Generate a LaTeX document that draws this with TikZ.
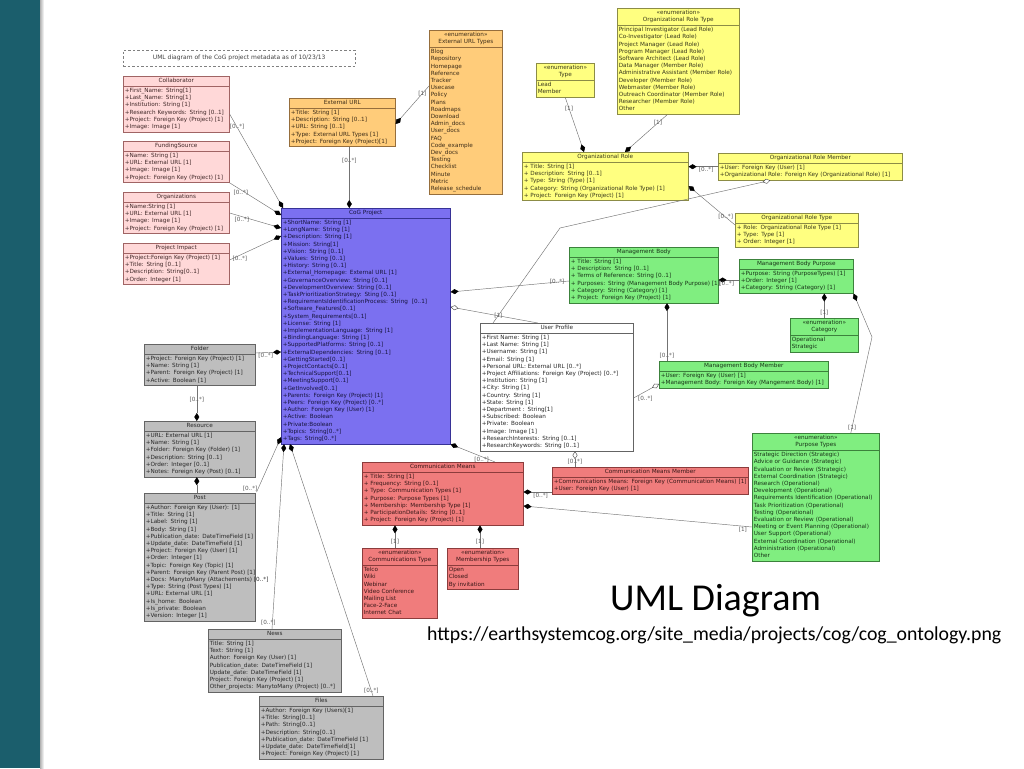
\documentclass[tikz,border=0pt]{standalone}
\usepackage{fontspec}
\newfontfamily\umlfamily{DejaVu Sans}
\newfontfamily\slidefamily{Carlito}
\newcommand{\umlfont}{\umlfamily\fontsize{5.7}{7.2}\selectfont}
\newcommand{\hd}[1]{\makebox[\hsize]{\strut#1}\par}
\newcommand{\rw}[1]{\mbox{\strut#1}\par}
\usetikzlibrary{shapes.multipart, arrows.meta}
\definecolor{sidebar}{RGB}{27,94,108}
\definecolor{pinkfill}{RGB}{255,216,216}
\definecolor{pinkline}{RGB}{160,100,100}
\definecolor{orangefill}{RGB}{255,204,122}
\definecolor{orangeline}{RGB}{150,110,60}
\definecolor{yellowfill}{RGB}{255,255,128}
\definecolor{yellowline}{RGB}{140,140,70}
\definecolor{bluefill}{RGB}{123,112,240}
\definecolor{blueline}{RGB}{55,50,150}
\definecolor{greenfill}{RGB}{128,238,128}
\definecolor{greenline}{RGB}{60,130,60}
\definecolor{redfill}{RGB}{240,124,124}
\definecolor{redline}{RGB}{140,60,60}
\definecolor{grayfill}{RGB}{190,190,190}
\definecolor{grayline}{RGB}{100,100,100}
\tikzset{
  umlclass/.style 2 args={draw=#2, fill=#1, text=#2!40!black, line width=0.6pt,
    rectangle split, rectangle split parts=2, anchor=north west,
    inner xsep=1.5pt, inner ysep=1pt, align=left, font=\umlfont},
  pinkbox/.style={umlclass={pinkfill}{pinkline}},
  orangebox/.style={umlclass={orangefill}{orangeline}},
  yellowbox/.style={umlclass={yellowfill}{yellowline}},
  bluebox/.style={umlclass={bluefill}{blueline}},
  greenbox/.style={umlclass={greenfill}{greenline}},
  redbox/.style={umlclass={redfill}{redline}},
  graybox/.style={umlclass={grayfill}{grayline}},
  whitebox/.style={umlclass={white}{grayline}},
  titlebox/.style={draw=black!50, dash pattern=on 2.5pt off 2pt, anchor=north west,
    minimum width=232pt, minimum height=16pt, inner sep=0pt,
    font=\umlfamily\fontsize{6}{7}\selectfont, text=black!75},
  conn/.style={draw=black!55, line width=0.45pt},
  comp/.style={conn, -{Diamond[length=8pt,width=5pt,color=black]}},
  aggr/.style={conn, -{Diamond[open,length=8pt,width=5pt,color=black!70,fill=white]}},
  mult/.style={font=\umlfont, text=black!65, inner sep=0.5pt}
}

\begin{document}
\begin{tikzpicture}[x=1pt, y=-1pt]
  \useasboundingbox (0,0) rectangle (1024,768);
  \fill[sidebar] (0,0) rectangle (40,768);
  \shade[left color=black!30, right color=white] (40,0) rectangle (44,768);

  \node[titlebox] (title) at (123,50) {UML diagram of the CoG project metadata as of 10/23/13};

  % left column
  \node[pinkbox, text width=103pt] (collab) at (123,76) {\hd{Collaborator}
    \nodepart{two}
    \rw{+First\_Name: String[1]}
    \rw{+Last\_Name: String[1]}
    \rw{+Institution: String [1]}
    \rw{+Research Keywords: String [0..1]}
    \rw{+Project: Foreign Key (Project) [1]}
    \rw{+Image: Image [1]}};
  \node[pinkbox, text width=103pt] (fund) at (123,141) {\hd{FundingSource}
    \nodepart{two}
    \rw{+Name: String [1]}
    \rw{+URL: External URL [1]}
    \rw{+Image: Image [1]}
    \rw{+Project: Foreign Key (Project) [1]}
    \vspace{5pt}};
  \node[pinkbox, text width=103pt] (orgs) at (123,192) {\hd{Organizations}
    \nodepart{two}
    \rw{+Name:String [1]}
    \rw{+URL: External URL [1]}
    \rw{+Image: Image [1]}
    \rw{+Project: Foreign Key (Project) [1]}};
  \node[pinkbox, text width=103pt] (pimpact) at (123,243) {\hd{Project Impact}
    \nodepart{two}
    \rw{+Project:Foreign Key (Project) [1]}
    \rw{+Title: String [0..1]}
    \rw{+Description: String[0..1]}
    \rw{+Order: Integer [1]}};

  % external url
  \node[orangebox, text width=103pt] (exturl) at (289,98) {\hd{External URL}
    \nodepart{two}
    \rw{+Title: String [1]}
    \rw{+Description: String [0..1]}
    \rw{+URL: String [0..1]}
    \rw{+Type: External URL Types [1]}
    \rw{+Project: Foreign Key (Project)[1]}};
  \node[orangebox, text width=70pt] (urltypes) at (429,30) {\hd{«enumeration»}\hd{External URL Types}
    \nodepart{two}
    \rw{Blog}\rw{Repository}\rw{Homepage}\rw{Reference}\rw{Tracker}
    \rw{Usecase}\rw{Policy}\rw{Plans}\rw{Roadmaps}\rw{Download}
    \rw{Admin\_docs}\rw{User\_docs}\rw{FAQ}\rw{Code\_example}\rw{Dev\_docs}
    \rw{Testing}\rw{Checklist}\rw{Minute}\rw{Metric}\rw{Release\_schedule}};

  % organizational roles
  \node[yellowbox, text width=55pt] (typeenum) at (536,63) {\hd{«enumeration»}\hd{Type}
    \nodepart{two}
    \rw{Lead}\rw{Member}};
  \node[yellowbox, text width=119pt] (roleenum) at (617,8) {\hd{«enumeration»}\hd{Organizational Role Type}
    \nodepart{two}
    \rw{Principal Investigator (Lead Role)}
    \rw{Co-Investigator (Lead Role)}
    \rw{Project Manager (Lead Role)}
    \rw{Program Manager (Lead Role)}
    \rw{Software Architect (Lead Role)}
    \rw{Data Manager (Member Role)}
    \rw{Administrative Assistant (Member Role)}
    \rw{Developer (Member Role)}
    \rw{Webmaster (Member Role)}
    \rw{Outreach Coordinator (Member Role)}
    \rw{Researcher (Member Role)}
    \rw{Other}};
  \node[yellowbox, text width=163pt] (orgrole) at (522,152) {\hd{Organizational Role}
    \nodepart{two}
    \rw{+ Title: String [1]}
    \rw{+ Description: String [0..1]}
    \rw{+ Type: String (Type) [1]}
    \rw{+ Category: String (Organizational Role Type) [1]}
    \rw{+ Project: Foreign Key (Project) [1]}};
  \node[yellowbox, text width=181pt] (rolemember) at (718,153) {\hd{Organizational Role Member}
    \nodepart{two}
    \rw{+User: Foreign Key (User) [1]}
    \rw{+Organizational Role: Foreign Key (Organizational Role) [1]}
    \vspace{8pt}};
  \node[yellowbox, text width=120pt] (roletype) at (735,213) {\hd{Organizational Role Type}
    \nodepart{two}
    \rw{+ Role: Organizational Role Type [1]}
    \rw{+ Type: Type [1]}
    \rw{+ Order: Integer [1]}};

  % project
  \node[bluebox, text width=166pt] (coc) at (281,208) {\hd{CoG Project}
    \nodepart{two}
    \rw{+ShortName: String [1]}
    \rw{+LongName: String [1]}
    \rw{+Description: String [1]}
    \rw{+Mission: String[1]}
    \rw{+Vision: String [0..1]}
    \rw{+Values: String [0..1]}
    \rw{+History: String [0..1]}
    \rw{+External\_Homepage: External URL [1]}
    \rw{+GovernanceOverview: String [0..1]}
    \rw{+DevelopmentOverview: String [0..1]}
    \rw{+TaskPrioritizationStrategy: Sting [0..1]}
    \rw{+RequirementsIdentificationProcess: String\ \ [0..1]}
    \rw{+Software\_Features[0..1]}
    \rw{+System\_Requirements[0..1]}
    \rw{+License: String [1]}
    \rw{+ImplementationLanguage: String [1]}
    \rw{+BindingLanguage: String [1]}
    \rw{+SupportedPlatforms: String [0..1]}
    \rw{+ExternalDependencies: String [0..1]}
    \rw{+GettingStarted[0..1]}
    \rw{+ProjectContacts[0..1]}
    \rw{+TechnicalSupport[0..1]}
    \rw{+MeetingSupport[0..1]}
    \rw{+GetInvolved[0..1]}
    \rw{+Parents: Foreign Key (Project) [1]}
    \rw{+Peers: Foreign Key (Project) [0..*]}
    \rw{+Author: Foreign Key (User) [1]}
    \rw{+Active: Boolean}
    \rw{+Private:Boolean}
    \rw{+Topics: String[0..*]}
    \rw{+Tags: String[0..*]}};

  % management bodies
  \node[greenbox, text width=146pt] (mgmt) at (569,247) {\hd{Management Body}
    \nodepart{two}
    \rw{+ Title: String [1]}
    \rw{+ Description: String [0..1]}
    \rw{+ Terms of Reference: String [0..1]}
    \rw{+ Purposes: String (Management Body Purpose) [1]}
    \rw{+ Category: String (Category) [1]}
    \rw{+ Project: Foreign Key (Project) [1]}};
  \node[greenbox, text width=111pt] (purpose) at (739,259) {\hd{Management Body Purpose}
    \nodepart{two}
    \rw{+Purpose: String (PurposeTypes) [1]}
    \rw{+Order: Integer [1]}
    \rw{+Category: String (Category) [1]}};
  \node[greenbox, text width=65pt] (category) at (790,318) {\hd{«enumeration»}\hd{Category}
    \nodepart{two}
    \rw{Operational}\rw{Strategic}};
  \node[greenbox, text width=166pt] (mbmember) at (659,361) {\hd{Management Body Member}
    \nodepart{two}
    \rw{+User: Foreign Key (User) [1]}
    \rw{+Management Body: Foreign Key (Mangement Body) [1]}};
  \node[greenbox, text width=124pt] (purposetypes) at (752,433) {\hd{«enumeration»}\hd{Purpose Types}
    \nodepart{two}
    \rw{Strategic Direction (Strategic)}
    \rw{Advice or Guidance (Strategic)}
    \rw{Evaluation or Review (Strategic)}
    \rw{External Coordination (Strategic)}
    \rw{Research (Operational)}
    \rw{Development (Operational)}
    \rw{Requirements Identification (Operational)}
    \rw{Task Prioritization (Operational)}
    \rw{Testing (Operational)}
    \rw{Evaluation or Review (Operational)}
    \rw{Meeting or Event Planning (Operational)}
    \rw{User Support (Operational)}
    \rw{External Coordination (Operational)}
    \rw{Administration (Operational)}
    \rw{Other}};

  % users
  \node[whitebox, text width=150pt] (user) at (480,323) {\hd{User Profile}
    \nodepart{two}
    \rw{+First Name: String [1]}
    \rw{+Last Name: String [1]}
    \rw{+Username: String [1]}
    \rw{+Email: String [1]}
    \rw{+Personal URL: External URL [0..*]}
    \rw{+Project Affiliations: Foreign Key (Project) [0..*]}
    \rw{+Institution: String [1]}
    \rw{+City: String [1]}
    \rw{+Country: String [1]}
    \rw{+State: String [1]}
    \rw{+Department : String[1]}
    \rw{+Subscribed: Boolean}
    \rw{+Private: Boolean}
    \rw{+Image: Image [1]}
    \rw{+ResearchInterests: String [0..1]}
    \rw{+ResearchKeywords: String [0..1]}};

  % folders and posts
  \node[graybox, text width=108pt] (folder) at (144,344) {\hd{Folder}
    \nodepart{two}
    \rw{+Project: Foreign Key (Project) [1]}
    \rw{+Name: String [1]}
    \rw{+Parent: Foreign Key (Project) [1]}
    \rw{+Active: Boolean [1]}};
  \node[graybox, text width=108pt] (resource) at (144,421) {\hd{Resource}
    \nodepart{two}
    \rw{+URL: External URL [1]}
    \rw{+Name: String [1]}
    \rw{+Folder: Foreign Key (Folder) [1]}
    \rw{+Description: String [0..1]}
    \rw{+Order: Integer [0..1]}
    \rw{+Notes: Foreign Key (Post) [0..1]}};
  \node[graybox, text width=108pt] (post) at (144,493) {\hd{Post}
    \nodepart{two}
    \rw{+Author: Foreign Key (User): [1]}
    \rw{+Title: String [1]}
    \rw{+Label: String [1]}
    \rw{+Body: String [1]}
    \rw{+Publication\_date: DateTimeField [1]}
    \rw{+Update\_date: DateTimeField [1]}
    \rw{+Project: Foreign Key (User) [1]}
    \rw{+Order: Integer [1]}
    \rw{+Topic: Foreign Key (Topic) [1]}
    \rw{+Parent: Foreign Key (Parent Post) [1]}
    \rw{+Docs: ManytoMany (Attachements) [0..*]}
    \rw{+Type: String (Post Types) [1]}
    \rw{+URL: External URL [1]}
    \rw{+Is\_home: Boolean}
    \rw{+Is\_private: Boolean}
    \rw{+Version: Integer [1]}};
  \node[graybox, text width=130pt] (news) at (208,629) {\hd{News}
    \nodepart{two}
    \rw{Title: String [1]}
    \rw{Text: String [1]}
    \rw{Author: Foreign Key (User) [1]}
    \rw{Publication\_date: DateTimeField [1]}
    \rw{Update\_date: DateTimeField [1]}
    \rw{Project: Foreign Key (Project) [1]}
    \rw{Other\_projects: ManytoMany (Project) [0..*]}};
  \node[graybox, text width=121pt] (files) at (259,696) {\hd{Files}
    \nodepart{two}
    \rw{+Author: Foreign Key (Users)[1]}
    \rw{+Title: String[0..1]}
    \rw{+Path: String[0..1]}
    \rw{+Description: String[0..1]}
    \rw{+Publication\_date: DateTimeField [1]}
    \rw{+Update\_date: DateTimeField[1]}
    \rw{+Project: Foreign Key (Project) [1]}
    \vspace{4pt}};

  % communication
  \node[redbox, text width=158pt] (comm) at (362,462) {\hd{Communication Means}
    \nodepart{two}
    \rw{+ Title: String [1]}
    \rw{+ Frequency: String [0..1]}
    \rw{+ Type: Communication Types [1]}
    \rw{+ Purpose: Purpose Types [1]}
    \rw{+ Membership: Membership Type [1]}
    \rw{+ ParticipationDetails: String [0..1]}
    \rw{+ Project: Foreign Key (Project) [1]}};
  \node[redbox, text width=193pt] (commmember) at (552,467) {\hd{Communication Means Member}
    \nodepart{two}
    \rw{+Communications Means: Foreign Key (Communication Means) [1]}
    \rw{+User: Foreign Key (User) [1]}
    \vspace{7pt}};
  \node[redbox, text width=72pt] (commtype) at (362,548) {\hd{«enumeration»}\hd{Communications Type}
    \nodepart{two}
    \rw{Telco}\rw{Wiki}\rw{Webinar}\rw{Video Conference}
    \rw{Mailing List}\rw{Face-2-Face}\rw{Internet Chat}};
  \node[redbox, text width=68pt] (membership) at (447,548) {\hd{«enumeration»}\hd{Membership Types}
    \nodepart{two}
    \rw{Open}\rw{Closed}\rw{By invitation}};

  % bends
  \coordinate (bendA) at (560,228);
  \coordinate (bendB) at (872,337);

  % connectors
  \draw[comp] ([yshift=-38pt]collab.north east) -- node[mult, pos=0.14] (m1) {[0..*]} ([xshift=2pt]coc.north west);
  \draw[comp] (fund.south east) -- node[mult, pos=0.22, anchor=north] (m2) {[0..*]} ([yshift=-7pt]coc.north west);
  \draw[comp] ([yshift=-21pt]orgs.north east) -- node[mult, pos=0.24, anchor=north] (m3) {[0..*]} ([yshift=-20pt]coc.north west);
  \draw[comp] ([yshift=-17pt]pimpact.north east) -- node[mult, pos=0.2, anchor=north] (m4) {[0..*]} ([yshift=-28pt]coc.north west);
  \draw[comp] ([xshift=7pt]exturl.south) -- node[mult, pos=0.22] (m5) {[0..*]} ([xshift=7pt]exturl.south |- coc.north);
  \draw[comp] ([yshift=-56pt]urltypes.north west) -- node[mult, pos=0.2] (m6) {[1]} ([yshift=-26pt]exturl.north east);
  \draw[comp] (typeenum.south) -- node[mult, pos=0.2] (m7) {[1]} ([xshift=62pt]orgrole.north west);
  \draw[comp] ([xshift=-11pt]roleenum.south) -- node[mult, pos=0.22] (m8) {[1]} ([xshift=103pt]orgrole.north west);
  \draw[comp] (rolemember.west) -- node[mult, pos=0.4, anchor=north] (m9) {[0..*]} (rolemember.west -| orgrole.east);
  \draw[comp] ([yshift=-12pt]roletype.north west) -- node[mult, pos=0.2] (m10) {[0..*]} ([yshift=-34pt]orgrole.north east);
  \draw[aggr] ([xshift=13pt]user.north west) -- node[mult, pos=0.08] (m11) {[1]} (bendA) -- ([xshift=-40pt]rolemember.south);
  \draw[aggr] ([xshift=-19pt]user.north) -- ([yshift=-99pt]coc.north east);
  \draw[comp] ([yshift=-34pt]mgmt.north west) -- node[mult, pos=0.1] (m13) {[0..*]} ([yshift=-84pt]coc.north east);
  \draw[comp] ([yshift=-21pt]purpose.north west) -- node[mult, pos=0.6, anchor=north] (m14) {[0..*]} ([yshift=-21pt]purpose.north west -| mgmt.east);
  \draw[comp] (category.north) -- node[mult, pos=0.2] (m15) {[1]} (category.north |- purpose.south);
  \draw[comp] ([xshift=35pt]purposetypes.north) -- node[mult, pos=0.06] (m16) {[1]} (bendB) -- (purpose.south east);
  \draw[comp] ([xshift=8pt]mbmember.north west) -- node[mult, pos=0.1] (m17) {[0..*]} ([xshift=8pt]mbmember.north west |- mgmt.south);
  \draw[aggr] ([yshift=-75pt]user.north east) -- node[mult, pos=0.15, anchor=north west] (m18) {[0..*]} ([yshift=-23pt]mbmember.north west);
  \draw[comp] ([xshift=133pt]comm.north west) -- node[mult, pos=0.3, anchor=north] (m19) {[0..*]} (coc.south east);
  \draw[aggr] ([xshift=23pt]commmember.north west) -- node[mult, pos=0.33] (m20) {[0..*]} ([xshift=23pt]commmember.north west |- user.south);
  \draw[comp] ([yshift=-25pt]commmember.north west) -- node[mult, pos=0.4, anchor=north] (m21) {[0..*]} ([yshift=-25pt]commmember.north west -| comm.east);
  \draw[comp] ([yshift=-94pt]purposetypes.north west) -- node[mult, pos=0.04, anchor=north] (m22) {[1]} ([yshift=-44pt]comm.north east);
  \draw[comp] ([xshift=33pt]comm.south west |- commtype.north) -- node[mult, pos=0.27] (m23) {[1]} ([xshift=33pt]comm.south west);
  \draw[comp] ([xshift=118pt]comm.south west |- membership.north) -- node[mult, pos=0.27] (m24) {[1]} ([xshift=118pt]comm.south west);
  \draw[comp] ([yshift=-9pt]folder.north east) -- node[mult, pos=0.4, anchor=north] (m25) {[0..*]} ([yshift=-144pt]coc.north west);
  \draw[comp] ([xshift=-3pt]folder.south) -- node[mult, pos=0.4] (m26) {[0..*]} ([xshift=-3pt]folder.south |- resource.north);
  \draw[comp] ([xshift=-3pt]resource.south |- post.north) -- ([xshift=-3pt]resource.south);
  \draw[comp] ([xshift=1pt,yshift=1pt]post.north east) -- node[mult, pos=0.06, anchor=east] (m28) {[0..*]} ([yshift=7pt]coc.south west);
  \draw[comp] ([xshift=64pt]news.north west) -- node[mult, pos=0.035, xshift=-4pt] (m29) {[0..*]} ([xshift=3pt]coc.south west);
  \draw[comp] ([xshift=114pt]files.north west) -- node[mult, pos=0.02] (m30) {[0..*]} ([xshift=9pt]coc.south west);

  % slide text
  \node[anchor=base west, inner sep=0pt, font=\slidefamily\fontsize{38}{40}\selectfont] (heading) at (610,610) {UML Diagram};
  \node[anchor=base west, inner sep=0pt, font=\slidefamily\fontsize{19.8}{22}\selectfont] (source) at (427,640) {https://earthsystemcog.org/site\_media/projects/cog/cog\_ontology.png};
\end{tikzpicture}
\end{document}
